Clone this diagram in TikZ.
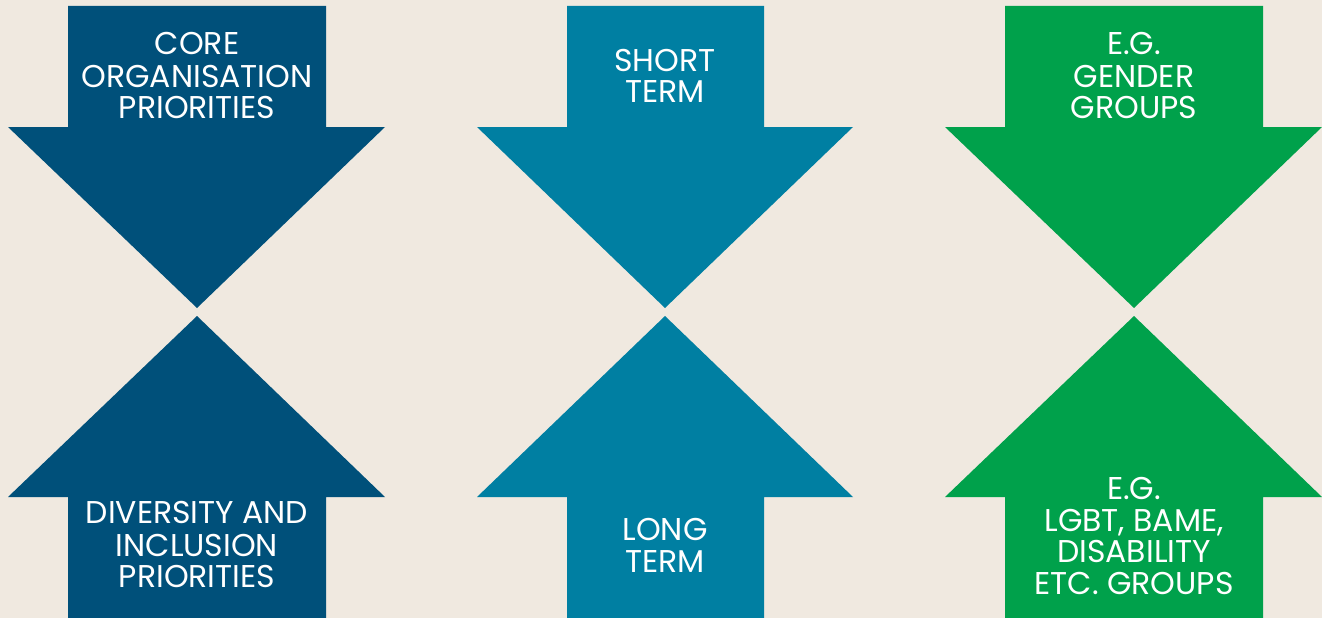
\documentclass[tikz,border=0pt]{standalone}
\usepackage{fontspec}
\setmainfont{Poppins}
\definecolor{bg}{HTML}{F0E9E0}
\definecolor{navy}{HTML}{00507A}
\definecolor{teal}{HTML}{007FA2}
\definecolor{grn}{HTML}{00A14B}
\begin{document}
\begin{tikzpicture}[x=1pt,y=-1pt,
  lbl/.style={text=white,font=\fontsize{31.5}{33}\selectfont,inner sep=0pt,anchor=base}]
\fill[bg] (0,0) rectangle (1322,618);
\useasboundingbox (0,0) rectangle (1322,618);
% left column (center 197)
\fill[navy] (68,6) -- (326,6) -- (326,127) -- (385,127) -- (197,308) -- (8,127) -- (68,127) -- cycle;
\fill[navy] (68,618) -- (326,618) -- (326,497) -- (385,497) -- (197,316) -- (8,497) -- (68,497) -- cycle;
% middle column (center 665)
\fill[teal] (567,6) -- (764,6) -- (764,127) -- (853,127) -- (665,308) -- (477,127) -- (567,127) -- cycle;
\fill[teal] (567,618) -- (764,618) -- (764,497) -- (853,497) -- (665,316) -- (477,497) -- (567,497) -- cycle;
% right column (center 1134)
\fill[grn] (1005,6) -- (1263,6) -- (1263,127) -- (1322,127) -- (1134,308) -- (945,127) -- (1005,127) -- cycle;
\fill[grn] (1005,618) -- (1263,618) -- (1263,497) -- (1322,497) -- (1134,316) -- (945,497) -- (1005,497) -- cycle;
% texts
\node[lbl] (a1) at (197,55) {CORE};
\node[lbl] (a2) at (197,87) {ORGANISATION};
\node[lbl] (a3) at (197,118) {PRIORITIES};
\node[lbl] (b1) at (197,523) {DIVERSITY AND};
\node[lbl] (b2) at (197,556) {INCLUSION};
\node[lbl] (b3) at (197,587) {PRIORITIES};
\node[lbl] (c1) at (665,71) {SHORT};
\node[lbl] (c2) at (665,102) {TERM};
\node[lbl] (d1) at (665,540) {LONG};
\node[lbl] (d2) at (665,572) {TERM};
\node[lbl] (e1) at (1134,55) {E.G.};
\node[lbl] (e2) at (1134,87) {GENDER};
\node[lbl] (e3) at (1134,118) {GROUPS};
\node[lbl] (f1) at (1134,499) {E.G.};
\node[lbl] (f2) at (1134,531) {LGBT, BAME,};
\node[lbl] (f3) at (1134,562) {DISABILITY};
\node[lbl] (f4) at (1134,594) {ETC. GROUPS};
\end{tikzpicture}
\end{document}
